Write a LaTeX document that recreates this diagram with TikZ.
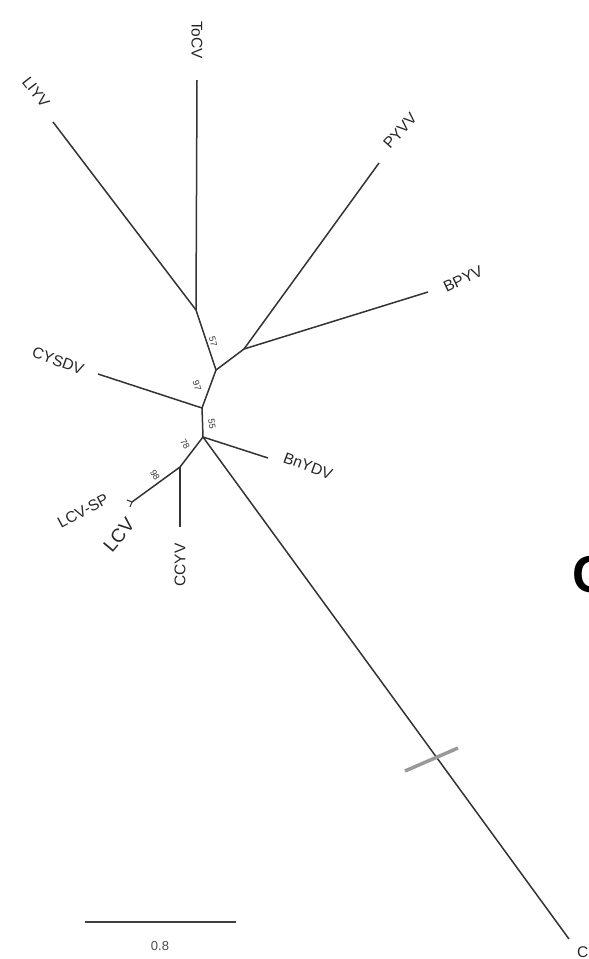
\documentclass[tikz,border=0pt]{standalone}
\usepackage{fontspec}
\setmainfont{Liberation Sans}
\begin{document}
\begin{tikzpicture}[x=1pt,y=-1pt,
  br/.style={draw=black!80,line width=1.5pt},
  lab/.style={font=\fontsize{15.5}{15.5}\selectfont,text=black!85,inner sep=0pt},
  bs/.style={font=\fontsize{9}{9}\selectfont,text=black!80,inner sep=0pt}]
\useasboundingbox (0,0) rectangle (589,959);
% internal nodes
\coordinate (A) at (196,310);
\coordinate (B) at (216,370);
\coordinate (C) at (244,349);
\coordinate (D) at (202,408);
\coordinate (E) at (203,437);
\coordinate (F) at (180,467);
% leaf ends
\coordinate (toc) at (197,80);
\coordinate (liy) at (53,122);
\coordinate (pyv) at (379,163);
\coordinate (bpy) at (428,292);
\coordinate (cys) at (98,374);
\coordinate (bny) at (268,458);
\coordinate (out) at (569,939);
\coordinate (ccy) at (180,527);
\coordinate (lcv) at (132,502);
\coordinate (lsp) at (127,500);
\coordinate (lcb) at (130,507);
% branches
\draw[br] (A) -- (toc);
\draw[br] (A) -- (liy);
\draw[br] (A) -- (B);
\draw[br] (B) -- (C);
\draw[br] (C) -- (pyv);
\draw[br] (C) -- (bpy);
\draw[br] (B) -- (D);
\draw[br] (D) -- (cys);
\draw[br] (D) -- (E);
\draw[br] (E) -- (bny);
\draw[br] (E) -- (out);
\draw[br] (E) -- (F);
\draw[br] (F) -- (ccy);
\draw[br] (F) -- (lcv);
\draw[br,line width=1.1pt] (lcv) -- (lsp);
\draw[br,line width=1.1pt] (lcv) -- (lcb);
% break mark
\coordinate (k1) at (405,771);
\coordinate (k2) at (458,748);
\draw[line width=3.5pt,black!40] (k1) -- (k2);
% labels
\node[lab,rotate=-90] (tocl) at (197,40) {ToCV};
\node[lab,rotate=-52] (liyl) at (36,92) {LIYV};
\node[lab,rotate=48] (pyvl) at (400,131) {PYVV};
\node[lab,rotate=25] (bpyl) at (463,279) {BPYV};
\node[lab,rotate=-20] (cysl) at (58,361) {CYSDV};
\node[lab,rotate=-20] (bnyl) at (308,466) {BnYDV};
\node[lab,rotate=90] (ccyl) at (180,565) {CCYV};
\node[lab,rotate=28] (lspl) at (83,511) {LCV-SP};
\node[lab,rotate=50,font=\fontsize{19}{19}\selectfont] (lcvl) at (119,535) {LCV};
% bootstrap values
\node[bs,rotate=-75] (b1) at (213,342) {57};
\node[bs,rotate=-75] (b2) at (197,386) {97};
\node[bs,rotate=-80] (b3) at (212,424) {55};
\node[bs,rotate=-60] (b4) at (185,444) {78};
\node[bs,rotate=-60] (b5) at (155,475) {98};
% scale bar
\coordinate (s1) at (85,922);
\coordinate (s2) at (236,922);
\draw[line width=1.8pt,black!75] (s1) -- (s2);
\node[lab,font=\fontsize{13}{13}\selectfont,text=black!70] (sl) at (160,946) {0.8};
% cut-off texts at right edge
\node[inner sep=0pt,anchor=west,font=\fontsize{52}{52}\bfseries\selectfont] (bigc) at (572,575) {C};
\node[lab,anchor=north west] (outl) at (577,946) {C};
\end{tikzpicture}
\end{document}
